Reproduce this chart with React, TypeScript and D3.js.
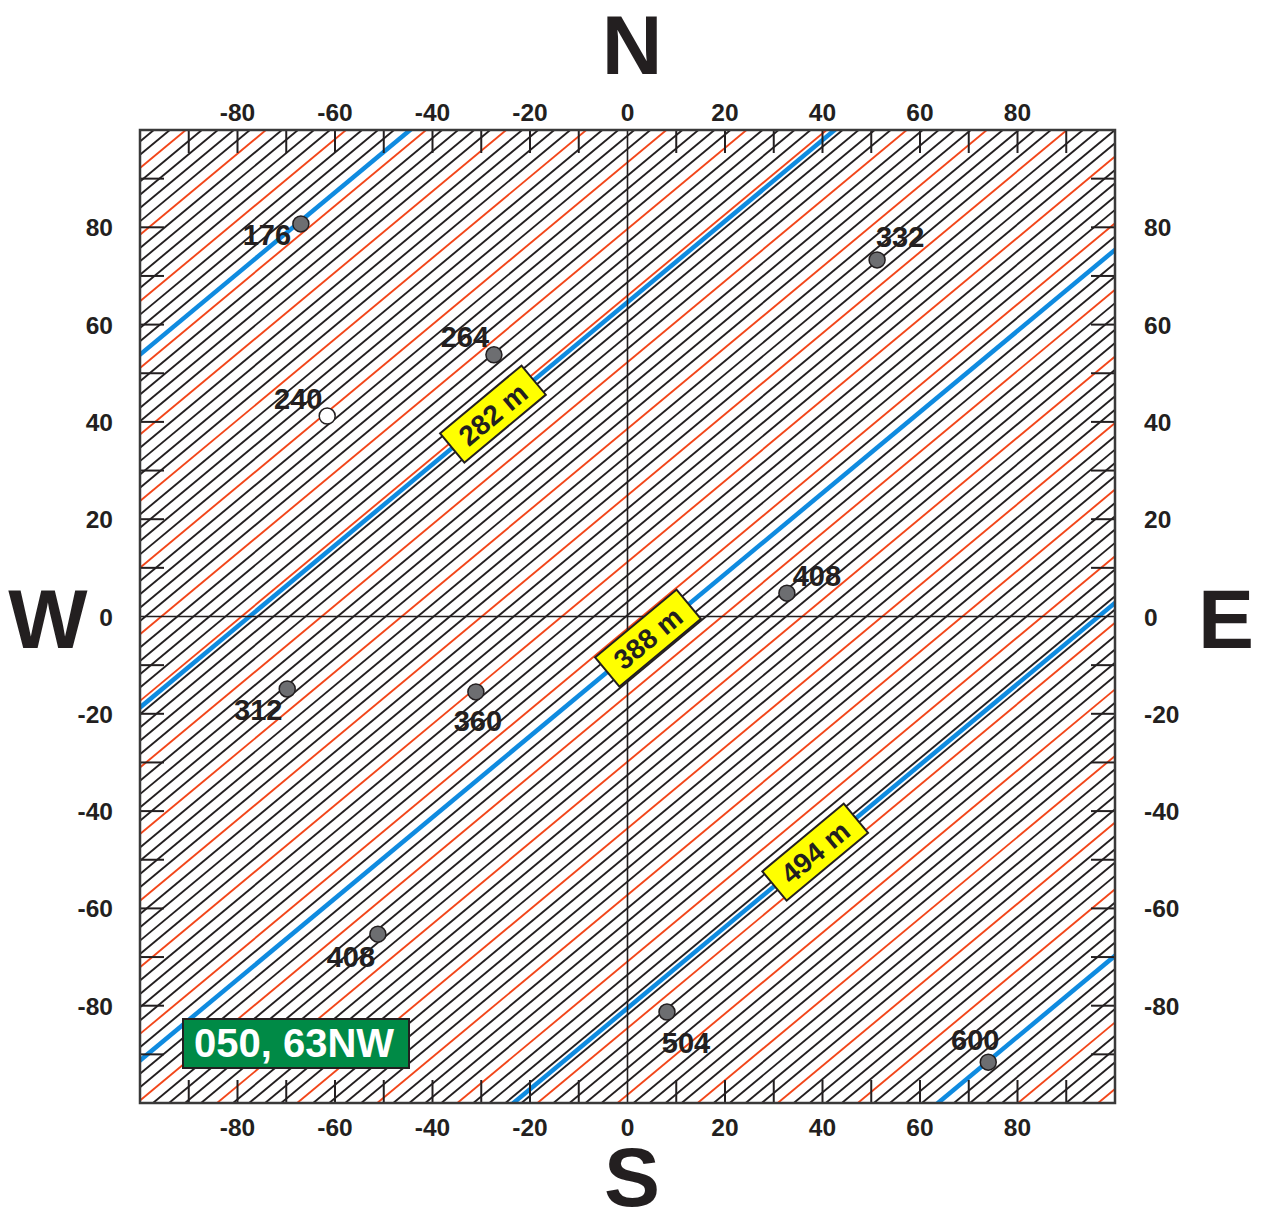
import React from "react";
import * as d3 from "d3";

// ---- data ----
const axisTicks = [-80, -60, -40, -20, 0, 20, 40, 60, 80];
const minorTicks = [-90, -80, -70, -60, -50, -40, -30, -20, -10, 10, 20, 30, 40, 50, 60, 70, 80, 90];
const pointLabels = ["176", "332", "264", "240", "408", "312", "360", "408", "504", "600"];
const pointX = [-67, 51.2, -27.4, -61.6, 32.7, -69.8, -31.1, -51.2, 8.1, 74];
const pointY = [80.7, 73.3, 53.8, 41.2, 4.8, -14.9, -15.5, -65.3, -81.3, -91.6];
const pointHollow = [false, false, false, true, false, false, false, false, false, false];
const blueLevels = [176, 282, 388, 494, 600];
const labeledLevels = [282, 388, 494];
const labelAtX = [-27.6, 4.2, 38.5];
const titleText = "050, 63NW";
// contour geometry
const strikeDeg = 50.2;
const refLevel = 388;
const refIntercept = -7.95; // y at x=0 for the 388 m contour
const metersPerUnit = 1.461; // elevation change per unit vertical offset
const minorStep = 4;
const redStep = 20;

// label offsets (px) relative to point
const labelDx = [-34, 23, -29, -29, 30, -29, 2, -27, 19, -13];
const labelDy = [21, -13, -8, -7, -7, 31, 39, 33, 41, -12];

const W = 1267, H = 1216;
const L = 140, R = 1115, T = 130, B = 1103;
const dark = "#231f20";
const font = "'Liberation Sans', Arial, Helvetica, sans-serif";

export default function App() {
  const x = d3.scaleLinear().domain([-100, 100]).range([L, R]);
  const y = d3.scaleLinear().domain([-100, 100]).range([B, T]);
  const slope = 1 / Math.tan((strikeDeg * Math.PI) / 180);
  const interceptFor = (lev: number) => refIntercept - (lev - refLevel) / metersPerUnit;
  const levels = d3.range(100, 700 + 1, minorStep);
  const line = d3.line<[number, number]>().x((d) => x(d[0])).y((d) => y(d[1]));
  const seg = (lev: number) => {
    const c = interceptFor(lev);
    return line([[-120, c - 120 * slope], [120, c + 120 * slope]]) as string;
  };
  const rot = -(Math.atan(slope) * 180) / Math.PI;

  return (
    <svg width={W} height={H} style={{ position: "absolute", left: 0, top: 0, background: "#fff" }} fontFamily={font}>
      <defs>
        <clipPath id="plot">
          <rect x={L} y={T} width={R - L} height={B - T} />
        </clipPath>
      </defs>
      <rect x={0} y={0} width={W} height={H} fill="#fff" />
      <g clipPath="url(#plot)">
        {levels.map((lev) => (
          <path key={"c" + lev} d={seg(lev)} stroke={lev % redStep === 0 ? "#f2461a" : dark} strokeWidth={1.9} fill="none" />
        ))}
        {blueLevels.map((lev) => (
          <path key={"b" + lev} d={seg(lev)} stroke="#0f8be0" strokeWidth={4.5} fill="none" />
        ))}
      </g>
      {/* centre axes */}
      <line x1={x(0)} x2={x(0)} y1={T} y2={B} stroke={dark} strokeWidth={1.6} />
      <line x1={L} x2={R} y1={y(0)} y2={y(0)} stroke={dark} strokeWidth={1.6} />
      {/* ticks */}
      {minorTicks.map((t) => (
        <g key={"t" + t} stroke={dark} strokeWidth={2}>
          <line x1={x(t)} x2={x(t)} y1={T} y2={T + 23} />
          <line x1={x(t)} x2={x(t)} y1={B} y2={B - 23} />
          <line x1={L} x2={L + 24} y1={y(t)} y2={y(t)} />
          <line x1={R} x2={R - 24} y1={y(t)} y2={y(t)} />
        </g>
      ))}
      <rect x={L} y={T} width={R - L} height={B - T} fill="none" stroke="#3a3a3a" strokeWidth={2.5} />
      {/* tick labels */}
      {axisTicks.map((t) => (
        <g key={"l" + t} fontSize={24.5} fontWeight="bold" fill={dark}>
          <text x={x(t)} y={121} textAnchor="middle">{t}</text>
          <text x={x(t)} y={1136} textAnchor="middle">{t}</text>
          <text x={113} y={y(t) + 9} textAnchor="end">{t}</text>
          <text x={1144} y={y(t) + 9} textAnchor="start">{t}</text>
        </g>
      ))}
      {/* compass letters */}
      <g fontSize={84} fontWeight="bold" fill={dark} textAnchor="middle">
        <text x={632} y={74}>N</text>
        <text x={632} y={1206}>S</text>
        <text x={48} y={648}>W</text>
        <text x={1226} y={648}>E</text>
      </g>
      {/* contour labels */}
      {labeledLevels.map((lev, i) => {
        const cx = x(labelAtX[i]);
        const cy = y(interceptFor(lev) + slope * labelAtX[i]);
        return (
          <g key={"lab" + lev} transform={`translate(${cx},${cy}) rotate(${rot})`}>
            <rect x={-53} y={-19} width={106} height={38} fill="#ffff00" stroke={dark} strokeWidth={2} />
            <text x={0} y={10} textAnchor="middle" fontSize={28} fontWeight="bold" fill={dark}>{lev} m</text>
          </g>
        );
      })}
      {/* points */}
      {pointLabels.map((lab, i) => (
        <g key={"p" + i}>
          <circle cx={x(pointX[i])} cy={y(pointY[i])} r={8} fill={pointHollow[i] ? "#fff" : "#6d6e71"} stroke={dark} strokeWidth={1.5} />
          <text x={x(pointX[i]) + labelDx[i]} y={y(pointY[i]) + labelDy[i]} textAnchor="middle" fontSize={29} fontWeight="bold" fill={dark}>{lab}</text>
        </g>
      ))}
      {/* title box */}
      <rect x={183} y={1019} width={226} height={49} fill="#008a46" stroke={dark} strokeWidth={2} />
      <text x={294} y={1057} textAnchor="middle" fontSize={40} fontWeight="bold" fill="#fff">{titleText}</text>
    </svg>
  );
}
